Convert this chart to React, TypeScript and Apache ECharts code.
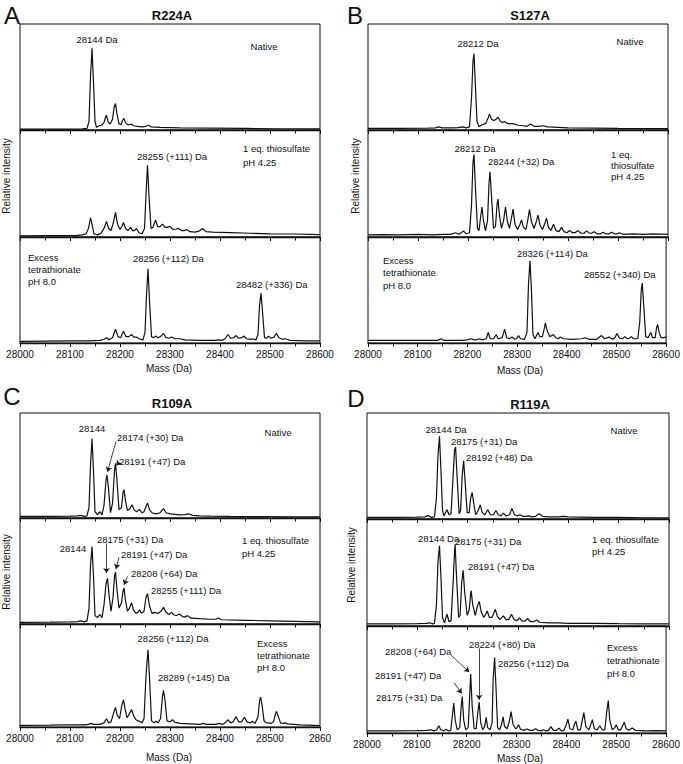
import React, { useEffect, useRef } from "react";
import * as echarts from "echarts";

const FONT = '"Liberation Sans", Arial, Helvetica, sans-serif';

// ---- tick labels ----
const massTicks = [28000, 28100, 28200, 28300, 28400, 28500, 28600];

// ---- spectra: [mass (Da), relative intensity (% of sub-panel height)] ----
const A_native = [[28000,0.8],[28050,0.8],[28100,0.9],[28125,1],[28134,1.5],[28138,8],[28141,50],[28144,77],[28147,45],[28150,8],[28153,2.5],[28158,4],[28163,4.5],[28168,7],[28171,12],[28173,14],[28176,8],[28180,5.5],[28185,10],[28188,21],[28191,25],[28194,15],[28198,6],[28202,5],[28205,9],[28208,11],[28211,7],[28215,5],[28220,5],[28223,5.5],[28227,4],[28235,3.5],[28245,3],[28252,3.5],[28257,4.5],[28262,3],[28280,2.5],[28320,2],[28380,1.8],[28450,1.5],[28520,1.2],[28600,1]];
const A_thio = [[28000,1],[28060,1.2],[28110,1.3],[28125,2],[28132,3],[28137,8],[28141,18],[28144,12],[28148,3],[28155,2],[28162,3.5],[28168,8],[28173,14.5],[28177,8],[28182,6],[28187,14],[28191,23],[28195,12],[28200,7],[28204,10],[28207,13.5],[28211,8],[28216,6],[28221,9],[28225,6],[28229,6],[28233,8],[28238,4],[28244,3],[28249,8],[28252,40],[28255,67],[28258,38],[28262,8],[28266,9],[28271,16],[28275,10],[28280,9.5],[28285,12],[28290,9],[28295,9],[28300,10],[28306,7],[28312,7.5],[28317,8],[28323,6],[28328,6],[28333,7],[28340,5],[28350,4.5],[28358,5.5],[28365,8],[28372,5],[28385,4.5],[28420,4],[28460,3.5],[28500,3],[28550,2.8],[28600,2.2]];
const A_tetra = [[28000,1.5],[28050,1.8],[28100,2],[28140,2],[28160,2.5],[28168,3.5],[28173,5],[28178,3],[28185,5],[28191,13],[28196,6],[28201,5],[28207,11],[28212,6],[28218,6],[28223,8],[28228,5.5],[28233,5.6],[28238,4],[28246,3],[28250,10],[28253,45],[28256,70],[28259,40],[28263,6],[28267,5],[28271,6.5],[28276,5],[28281,6],[28287,9],[28292,5],[28298,4.5],[28303,5.6],[28310,4],[28320,4],[28330,3],[28360,2.5],[28390,2.5],[28397,3],[28404,2.5],[28410,4],[28416,8],[28421,4.5],[28427,5],[28432,7],[28437,4.5],[28443,5],[28448,6.5],[28453,4],[28460,3.5],[28465,4],[28472,3],[28476,8],[28479,35],[28482,47],[28485,30],[28489,5],[28493,4.5],[28497,6.5],[28502,4.5],[28508,5.5],[28513,9],[28518,5],[28525,3.5],[28530,4],[28540,2.5],[28570,2],[28600,2]];

const B_native = [[28000,1.5],[28060,1.5],[28120,1.8],[28135,2],[28141,3],[28148,2],[28170,2],[28180,2.2],[28190,3],[28196,2],[28203,3],[28207,30],[28210,65],[28212,72],[28215,40],[28218,8],[28222,3],[28228,5],[28235,6],[28240,11],[28243,15],[28247,10],[28252,9],[28256,10],[28260,12],[28265,8],[28270,7],[28273,8],[28280,6],[28290,6],[28300,4.5],[28310,4],[28318,3.5],[28325,5.6],[28332,3.5],[28342,3.5],[28350,4],[28360,3],[28400,2],[28450,1.8],[28500,1.5],[28600,1.3]];
const B_thio = [[28000,2],[28030,2.2],[28060,2],[28100,2.5],[28130,2],[28150,2.5],[28165,2.5],[28175,4],[28182,2.5],[28191,5.7],[28196,3],[28203,4],[28207,30],[28210,70],[28212,77],[28215,45],[28219,8],[28222,6],[28225,18],[28228,28],[28231,15],[28235,6],[28239,15],[28242,50],[28244,61],[28247,38],[28251,8],[28255,10],[28258,30],[28260,35.5],[28263,20],[28267,8],[28271,15],[28275,28],[28279,14],[28283,8],[28287,18],[28290,26],[28294,12],[28299,7],[28304,12],[28307,16],[28311,9],[28316,7],[28320,17],[28323,25.5],[28327,14],[28332,8],[28337,15],[28340,20.4],[28344,11],[28349,7],[28354,13],[28357,17.6],[28361,9],[28366,6],[28371,12],[28376,6],[28382,5],[28387,9],[28392,5],[28398,4],[28403,6],[28409,4],[28414,4],[28420,6],[28426,3.5],[28432,3.5],[28437,5.7],[28443,3.5],[28447,3.5],[28452,5],[28458,3],[28465,3],[28470,4.5],[28476,3],[28482,3],[28487,4.5],[28493,3],[28498,3],[28503,4],[28510,2.5],[28530,3],[28550,2.5],[28570,3],[28600,2.5]];
const B_tetra = [[28000,2.5],[28050,2.5],[28100,2.5],[28140,2.5],[28147,4],[28153,2.5],[28170,2.5],[28190,2.5],[28200,3],[28207,4],[28213,3],[28218,3],[28223,4],[28230,3],[28238,4],[28242,10],[28246,4],[28253,4],[28258,8],[28262,4],[28270,5],[28275,13],[28279,5],[28285,4],[28290,5.6],[28295,3.5],[28299,4],[28303,7],[28307,4],[28315,3.5],[28320,10],[28323,55],[28326,77.5],[28329,50],[28332,8],[28336,4],[28342,10],[28346,6],[28351,6],[28355,14],[28357,19],[28361,11],[28366,6],[28373,8],[28378,5],[28383,4],[28387,5.6],[28393,4],[28410,3.5],[28430,4],[28437,5],[28445,3.5],[28460,3.5],[28470,7],[28476,4],[28485,5.6],[28492,3.5],[28497,5],[28501,9],[28506,4.5],[28512,4],[28517,6],[28522,4],[28526,4.5],[28530,6],[28535,4],[28543,4],[28547,20],[28550,50],[28552,56.5],[28555,35],[28559,6],[28564,5],[28569,10],[28573,5],[28578,5],[28581,15],[28583,17.5],[28586,10],[28590,5],[28596,5],[28600,6]];

const C_native = [[28000,1.5],[28060,1.5],[28100,1.8],[28115,2],[28122,2.5],[28128,1.5],[28134,2],[28138,10],[28141,50],[28144,75.7],[28147,45],[28150,6],[28155,3],[28160,6],[28164,3],[28168,12],[28172,36],[28174,41],[28177,28],[28181,5],[28185,14],[28189,45],[28191,52],[28194,35],[28198,8],[28203,10],[28206,24],[28208,27],[28211,16],[28215,7],[28220,9],[28224,12.6],[28228,8],[28233,6],[28239,8],[28244,5],[28248,6],[28252,11],[28255,14],[28259,8],[28264,5],[28272,4],[28280,5],[28287,9],[28292,5],[28300,4],[28310,3.5],[28320,3],[28330,3.2],[28337,4],[28345,2.5],[28360,2],[28380,1.8],[28420,1.5],[28480,1.3],[28540,1.1],[28600,1]];
const C_thio = [[28000,1.5],[28060,1.7],[28100,2],[28115,2.2],[28122,3],[28128,2],[28134,3],[28138,15],[28141,55],[28144,73],[28147,45],[28150,8],[28155,6],[28160,9],[28164,6],[28168,18],[28172,38],[28175,43],[28178,28],[28182,12],[28186,25],[28189,45],[28191,49],[28194,32],[28198,15],[28203,20],[28206,31],[28208,34],[28211,22],[28215,12],[28219,15],[28223,20],[28227,13],[28232,10],[28236,11],[28239,13.5],[28243,10],[28248,12],[28252,25],[28255,28.6],[28259,17],[28264,10],[28269,11],[28276,10],[28282,12],[28287,15.7],[28292,11],[28298,9],[28303,11],[28308,8.5],[28313,8],[28319,9.4],[28325,7],[28330,6.5],[28335,7.9],[28342,5.5],[28360,5],[28380,4.5],[28392,4.5],[28397,5.7],[28403,4],[28450,3.5],[28500,3],[28550,2.5],[28600,2]];
const C_tetra = [[28000,1.5],[28060,1.8],[28100,2.2],[28130,2],[28137,2.5],[28142,3.5],[28147,2.5],[28160,2.5],[28168,4],[28173,8],[28177,4],[28182,5],[28188,15],[28191,19],[28194,12],[28199,8],[28204,22],[28207,26.5],[28210,18],[28214,9],[28219,13],[28223,17],[28227,11],[28232,7],[28236,6],[28239,5.5],[28244,4],[28248,8],[28252,50],[28256,75],[28259,48],[28263,6],[28268,4],[28272,5.5],[28276,4],[28281,8],[28285,30],[28287,35.6],[28290,26],[28294,6],[28300,5],[28305,7],[28310,4.5],[28320,3.5],[28340,3],[28360,2.5],[28367,3.5],[28373,2.5],[28390,2.5],[28399,3.5],[28405,2.5],[28410,4],[28416,7],[28421,4],[28426,5],[28432,10],[28437,5],[28443,5],[28449,9.4],[28454,5],[28460,4],[28465,5.5],[28470,3.5],[28476,10],[28479,25],[28481,29],[28484,22],[28488,6],[28493,4],[28497,4],[28502,3.5],[28507,5],[28511,13],[28513,15],[28516,11],[28521,4],[28526,3.5],[28530,4],[28535,3],[28560,2],[28600,1.3]];

const D_native = [[28000,1.5],[28060,1.5],[28100,1.8],[28115,2],[28122,3.4],[28128,1.5],[28134,2],[28138,20],[28141,60],[28144,78],[28147,45],[28150,8],[28153,3],[28156,6],[28159,8.7],[28163,4],[28167,5],[28171,40],[28174,65],[28176,68],[28179,40],[28183,5],[28186,8],[28189,40],[28192,55],[28195,35],[28199,6],[28203,6],[28206,20],[28209,25],[28212,15],[28216,4],[28221,8],[28225,13.4],[28229,6],[28234,4],[28240,8.7],[28245,4],[28251,4],[28256,8],[28261,4],[28266,3],[28271,5.6],[28276,3],[28283,4],[28288,10],[28293,4],[28298,3],[28304,4],[28310,2.5],[28316,2.5],[28321,3],[28327,2],[28335,2.5],[28342,5],[28349,2.5],[28360,2],[28380,2],[28390,2.5],[28400,2],[28450,1.5],[28500,1.5],[28550,1.2],[28600,1]];
const D_thio = [[28000,2],[28050,2],[28100,2.2],[28118,2.5],[28125,3],[28130,2],[28134,2.5],[28138,20],[28141,60],[28144,75],[28147,45],[28150,8],[28154,3],[28157,8],[28159,11],[28163,4],[28167,5],[28171,40],[28174,70],[28175,76.6],[28178,45],[28182,8],[28185,10],[28188,40],[28191,52],[28194,32],[28199,10],[28203,15],[28206,30],[28207,33],[28210,20],[28215,10],[28219,18],[28223,23],[28227,13],[28232,8],[28236,11],[28239,14],[28243,8],[28248,8],[28252,12],[28255,15.6],[28259,9],[28264,6],[28268,8],[28271,9.4],[28276,6],[28281,6],[28285,9],[28287,11],[28292,6],[28298,5],[28303,7.5],[28308,4.5],[28314,4.5],[28319,7],[28325,4],[28331,4],[28337,5.6],[28343,3.5],[28360,3],[28380,3],[28400,2.5],[28450,2.5],[28500,2.2],[28550,2],[28600,2]];
const D_tetra = [[28000,2],[28050,2],[28100,2.2],[28120,2.5],[28128,3],[28134,2],[28140,3],[28144,6.8],[28148,3],[28154,2],[28159,3.5],[28163,2],[28168,2.5],[28171,15],[28174,28],[28177,12],[28181,3],[28186,5],[28189,25],[28191,34],[28194,12],[28198,3],[28203,5],[28206,35],[28208,55],[28211,25],[28215,4],[28219,4],[28222,18],[28225,29],[28228,10],[28232,3],[28236,6],[28239,14.6],[28242,5],[28247,3],[28251,10],[28253,50],[28256,70.5],[28259,40],[28262,5],[28266,3],[28270,8],[28273,15],[28276,6],[28281,4],[28285,10],[28289,20],[28293,8],[28298,4],[28301,5],[28304,7.8],[28308,3.5],[28314,2.5],[28321,3.7],[28327,2.5],[28333,2.5],[28338,4],[28343,2.5],[28349,2],[28354,3],[28359,2],[28364,2.5],[28369,6],[28374,2.5],[28380,2.5],[28385,4.6],[28390,2],[28395,2.5],[28400,8],[28403,13],[28407,4],[28413,3],[28416,8],[28419,11],[28423,3],[28428,3],[28432,12],[28435,19],[28439,6],[28445,3],[28449,8],[28452,12.4],[28456,4],[28462,3],[28467,6.8],[28472,3],[28477,3],[28481,20],[28484,30.4],[28487,12],[28492,3],[28497,5],[28500,7.8],[28504,3],[28509,3],[28513,7],[28516,10],[28520,4],[28525,2.5],[28532,4.6],[28538,2.5],[28560,2],[28580,2.2],[28600,2]];

// ---- annotation arrows (tail -> head), in [mass, intensity] ----
const C_native_arrows = [[[28192, 73], [28175, 44]], [[28198, 53], [28193, 50]]];
const C_thio_arrows = [[[28173, 76], [28173, 48]], [[28198, 63], [28192, 52]], [[28215, 45], [28208, 37]]];
const D_tetra_arrows = [[[28225, 79], [28225, 31]], [[28168, 73], [28205, 57]], [[28175, 47], [28190, 37]]];

type Panel = {
  left: number; width: number; tops: number[];
  spectra: number[][][]; arrows: number[][][][][]; lastLabel: string;
};

const panels: Panel[] = [
  { left: 20, width: 300, tops: [24, 130, 237, 343], spectra: [A_native, A_thio, A_tetra], arrows: [[], [], []], lastLabel: "28600" },
  { left: 368, width: 300, tops: [24, 130, 237, 343], spectra: [B_native, B_thio, B_tetra], arrows: [[], [], []], lastLabel: "28600" },
  { left: 20, width: 300, tops: [413, 518, 624, 727], spectra: [C_native, C_thio, C_tetra], arrows: [C_native_arrows, C_thio_arrows, []], lastLabel: "2860" },
  { left: 367, width: 302, tops: [413, 519, 626, 733], spectra: [D_native, D_thio, D_tetra], arrows: [[], [], D_tetra_arrows], lastLabel: "28600" },
];

type T = [number, number, string, string?, number?, string?];
// x, y, text, align, fontSize, weight
const texts: T[] = [
  // A
  [12, 15, "A", "center", 24], [172, 15, "R224A", "center", 13, "bold"],
  [97, 39, "28144 Da", "center"], [264, 46, "Native", "center"],
  [137, 156, "28255 (+111) Da"], [243, 148, "1 eq. thiosulfate"], [243, 162, "pH 4.25"],
  [28, 257, "Excess"], [28, 269, "tetrathionate"], [28, 281, "pH 8.0"],
  [133, 258, "28256 (+112) Da"], [236, 284, "28482 (+336) Da"],
  [169, 368, "Mass (Da)", "center", 10],
  // B
  [355, 15, "B", "center", 24], [530, 15, "S127A", "center", 13, "bold"],
  [478, 43, "28212 Da", "center"], [630, 41, "Native", "center"],
  [475, 148, "28212 Da", "center"], [488, 161, "28244 (+32) Da"],
  [611, 154, "1 eq."], [611, 165, "thiosulfate"], [611, 176, "pH 4.25"],
  [383, 260, "Excess"], [383, 272, "tetrathionate"], [383, 285, "pH 8.0"],
  [517, 253, "28326 (+114) Da"], [584, 274, "28552 (+340) Da"],
  [520, 370, "Mass (Da)", "center", 10],
  // C
  [12, 396, "C", "center", 24], [172, 403, "R109A", "center", 13, "bold"],
  [92, 428, "28144", "center"], [117, 437, "28174 (+30) Da"], [119, 461, "28191 (+47) Da"],
  [278, 432, "Native", "center"],
  [73, 548, "28144", "center"], [97, 539, "28175 (+31) Da"], [121, 554, "28191 (+47) Da"],
  [131, 573, "28208 (+64) Da"], [151, 590, "28255 (+111) Da"],
  [242, 540, "1 eq. thiosulfate"], [242, 553, "pH 4.25"],
  [173, 638, "28256 (+112) Da", "center"], [158, 677, "28289 (+145) Da"],
  [257, 643, "Excess"], [257, 655, "tetrathionate"], [257, 667, "pH 8.0"],
  [169, 757, "Mass (Da)", "center", 10],
  // D
  [356, 398, "D", "center", 24], [530, 404, "R119A", "center", 13, "bold"],
  [446, 429, "28144 Da", "center"], [451, 441, "28175 (+31) Da"], [466, 457, "28192 (+48) Da"],
  [624, 430, "Native", "center"],
  [418, 538, "28144 Da"], [455, 541, "28175 (+31) Da"], [468, 566, "28191 (+47) Da"],
  [592, 539, "1 eq. thiosulfate"], [592, 551, "pH 4.25"],
  [469, 644, "28224 (+80) Da"], [385, 651, "28208 (+64) Da"], [498, 663, "28256 (+112) Da"],
  [375, 675, "28191 (+47) Da"], [376, 697, "28175 (+31) Da"],
  [607, 647, "Excess"], [607, 660, "tetrathionate"], [607, 673, "pH 8.0"],
  [520, 758, "Mass (Da)", "center", 10],
];

const yLabels: [number, number][] = [[6, 176], [355, 176], [6, 572], [351, 565]];

function buildOption() {
  const grid: any[] = [];
  const xAxis: any[] = [];
  const yAxis: any[] = [];
  const series: any[] = [];
  let idx = 0;
  panels.forEach((p) => {
    for (let k = 0; k < 3; k++) {
      const isBottom = k === 2;
      grid.push({
        left: p.left, width: p.width, top: p.tops[k], height: p.tops[k + 1] - p.tops[k],
        show: true, borderColor: "#111", borderWidth: 1, backgroundColor: "transparent",
      });
      xAxis.push({
        type: "value", gridIndex: idx, min: massTicks[0], max: massTicks[massTicks.length - 1], interval: 100,
        axisLine: { show: true, onZero: false, lineStyle: { color: "#111", width: 1.3 } },
        axisTick: { show: true, length: 4, lineStyle: { color: "#111", width: 1 } },
        minorTick: { show: true, splitNumber: 2, length: 3.5, lineStyle: { color: "#111", width: 1 } },
        splitLine: { show: false }, minorSplitLine: { show: false },
        axisLabel: {
          show: isBottom, margin: 6, fontSize: 10, fontFamily: FONT, color: "#111",
          showMinLabel: true, showMaxLabel: true,
          formatter: (v: number) => (v === massTicks[massTicks.length - 1] ? p.lastLabel : String(v)),
        },
      });
      yAxis.push({ type: "value", gridIndex: idx, min: 0, max: 100, show: false });
      const arrows = p.arrows[k];
      series.push({
        type: "line", xAxisIndex: idx, yAxisIndex: idx, data: p.spectra[k],
        showSymbol: false, symbol: "none", silent: true,
        lineStyle: { color: "#111", width: 1.2 },
        markLine: arrows.length
          ? {
              silent: true, symbol: ["none", "arrow"], symbolSize: 5, animation: false,
              label: { show: false },
              lineStyle: { color: "#111", width: 0.8, type: "solid" },
              data: arrows.map((a) => [{ coord: a[0] }, { coord: a[1] }]),
            }
          : undefined,
      });
      idx++;
    }
  });

  const graphic: any[] = texts.map(([x, y, text, align, size, weight]) => ({
    type: "text", x, y, silent: true,
    style: {
      text, fontSize: size || 9.5, fontFamily: FONT, fontWeight: weight || "normal", fill: "#111",
      align: align || "left", verticalAlign: "middle",
      textAlign: align || "left", textVerticalAlign: "middle",
    },
  }));
  yLabels.forEach(([x, y]) => {
    graphic.push({
      type: "text", x, y, rotation: Math.PI / 2, silent: true,
      style: {
        text: "Relative intensity", fontSize: 10, fontFamily: FONT, fill: "#111",
        align: "center", verticalAlign: "middle", textAlign: "center", textVerticalAlign: "middle",
      },
    });
  });

  return { animation: false, backgroundColor: "#fff", grid, xAxis, yAxis, series, graphic };
}

export default function App() {
  const ref = useRef<HTMLDivElement>(null);
  useEffect(() => {
    if (!ref.current) return;
    const chart = echarts.init(ref.current, undefined, { renderer: "svg" });
    chart.setOption(buildOption() as any);
    return () => chart.dispose();
  }, []);
  return (
    <div
      ref={ref}
      style={{ position: "fixed", left: 0, top: 0, width: 683, height: 764, background: "#fff" }}
    />
  );
}
